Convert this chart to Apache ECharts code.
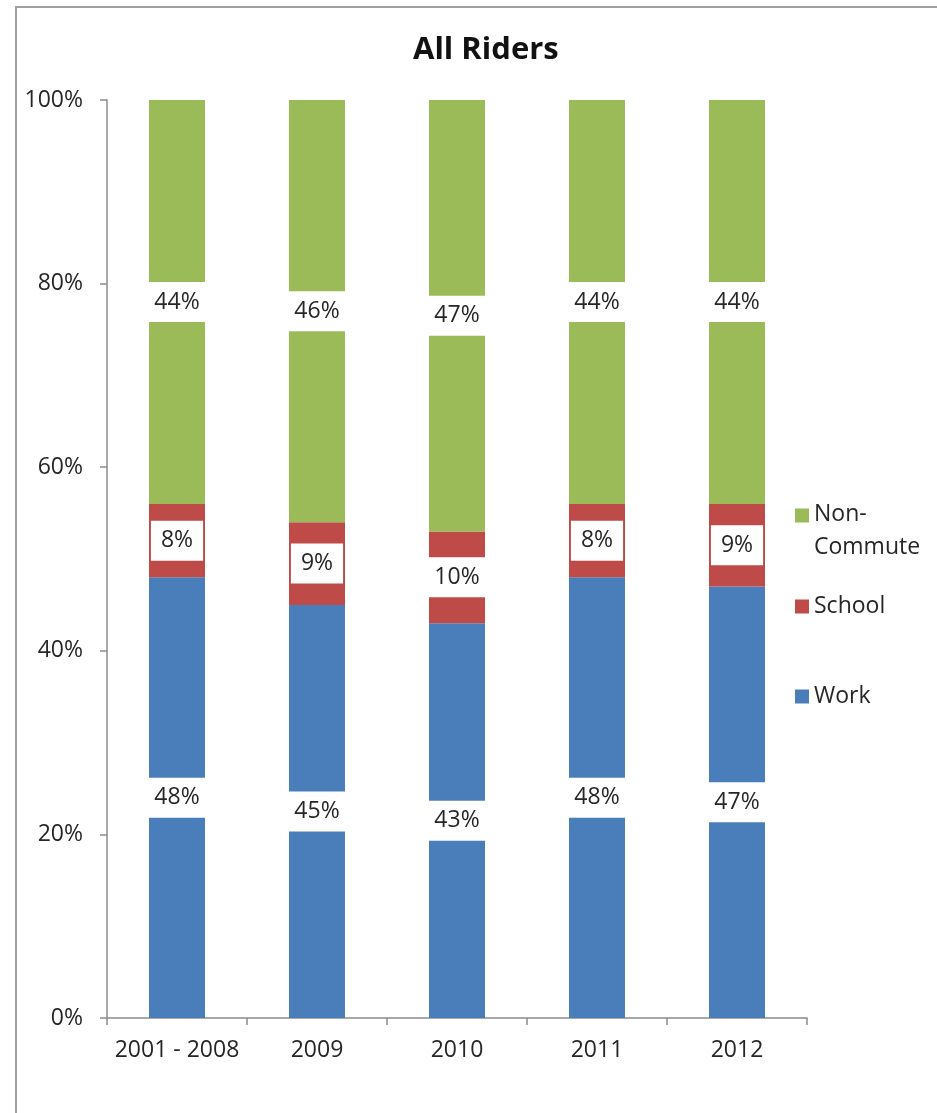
<!DOCTYPE html>
<html>
<head>
<meta charset="utf-8">
<title>All Riders</title>
<script src="https://cdn.jsdelivr.net/npm/echarts@6/dist/echarts.min.js"></script>
<style>
  html, body { margin: 0; padding: 0; background: #ffffff; }
  #chart { width: 937px; height: 1113px; }
</style>
</head>
<body>
<div id="chart"></div>
<script>
// Trip purpose shares (%) by survey period
const categories = ['2001 - 2008', '2009', '2010', '2011', '2012'];
const workShare = [48, 45, 43, 48, 47];
const schoolShare = [8, 9, 10, 8, 9];
const nonCommuteShare = [44, 46, 47, 44, 44];
const yTicks = [0, 20, 40, 60, 80, 100];

const FONT = '"Open Sans", "Noto Sans", sans-serif';
const TEXT = '#262626';
const AXIS = '#8c8c8c';

const label = {
  show: true,
  position: 'inside',
  formatter: '{c}%',
  fontFamily: FONT,
  fontSize: 23,
  color: TEXT,
  backgroundColor: '#ffffff',
  padding: [9, 10, 8, 10]
};

function barSeries(name, data, color) {
  return {
    name: name,
    type: 'bar',
    stack: 'total',
    barWidth: 56,
    data: data,
    itemStyle: { color: color },
    label: label,
    emphasis: { disabled: true }
  };
}

// Legend icon: square aligned with the first text line of a two-line entry
const topIcon = 'path://M0,0H14V14H0Z M0,45L14,45';

const legendText = { fontFamily: FONT, fontSize: 23, color: TEXT, lineHeight: 33 };

const chart = echarts.init(document.getElementById('chart'), null, { renderer: 'canvas' });
chart.setOption({
  animation: false,
  backgroundColor: '#ffffff',
  title: {
    text: 'All Riders',
    left: 408,
    top: 30,
    textStyle: { fontFamily: FONT, fontSize: 31, fontWeight: 'bold', color: '#111111' }
  },
  grid: { left: 107, right: 130, top: 100, bottom: 95 },
  legend: [
    {
      data: ['Non-Commute'],
      formatter: function () { return 'Non-\nCommute'; },
      orient: 'vertical', left: 795, top: 498,
      icon: topIcon, itemWidth: 14, itemHeight: 45, padding: 0,
      textStyle: legendText, selectedMode: false
    },
    {
      data: ['School'],
      orient: 'vertical', left: 795, top: 590,
      icon: 'rect', itemWidth: 14, itemHeight: 14, padding: 0,
      textStyle: legendText, selectedMode: false
    },
    {
      data: ['Work'],
      orient: 'vertical', left: 795, top: 680,
      icon: 'rect', itemWidth: 14, itemHeight: 14, padding: 0,
      textStyle: legendText, selectedMode: false
    }
  ],
  xAxis: {
    type: 'category',
    data: categories,
    boundaryGap: true,
    axisLine: { show: true, lineStyle: { color: AXIS, width: 1.5 } },
    axisTick: { show: true, length: 7, lineStyle: { color: AXIS, width: 1.5 } },
    axisLabel: { interval: 0, fontFamily: FONT, fontSize: 23, color: TEXT, margin: 21 }
  },
  yAxis: {
    type: 'value',
    min: yTicks[0],
    max: yTicks[yTicks.length - 1],
    interval: yTicks[1] - yTicks[0],
    axisLine: { show: true, lineStyle: { color: AXIS, width: 1.5 } },
    axisTick: { show: true, length: 7, lineStyle: { color: AXIS, width: 1.5 } },
    splitLine: { show: false },
    axisLabel: { fontFamily: FONT, fontSize: 23, color: TEXT, margin: 24, formatter: '{value}%' }
  },
  graphic: [
    {
      type: 'rect',
      silent: true,
      shape: { x: 16, y: 7, width: 960, height: 1160 },
      style: { fill: 'none', stroke: '#a0a0a0', lineWidth: 2 }
    }
  ],
  series: [
    barSeries('Work', workShare, '#4A7EBB'),
    barSeries('School', schoolShare, '#BE4B48'),
    barSeries('Non-Commute', nonCommuteShare, '#9BBB59')
  ]
});
</script>
</body>
</html>
